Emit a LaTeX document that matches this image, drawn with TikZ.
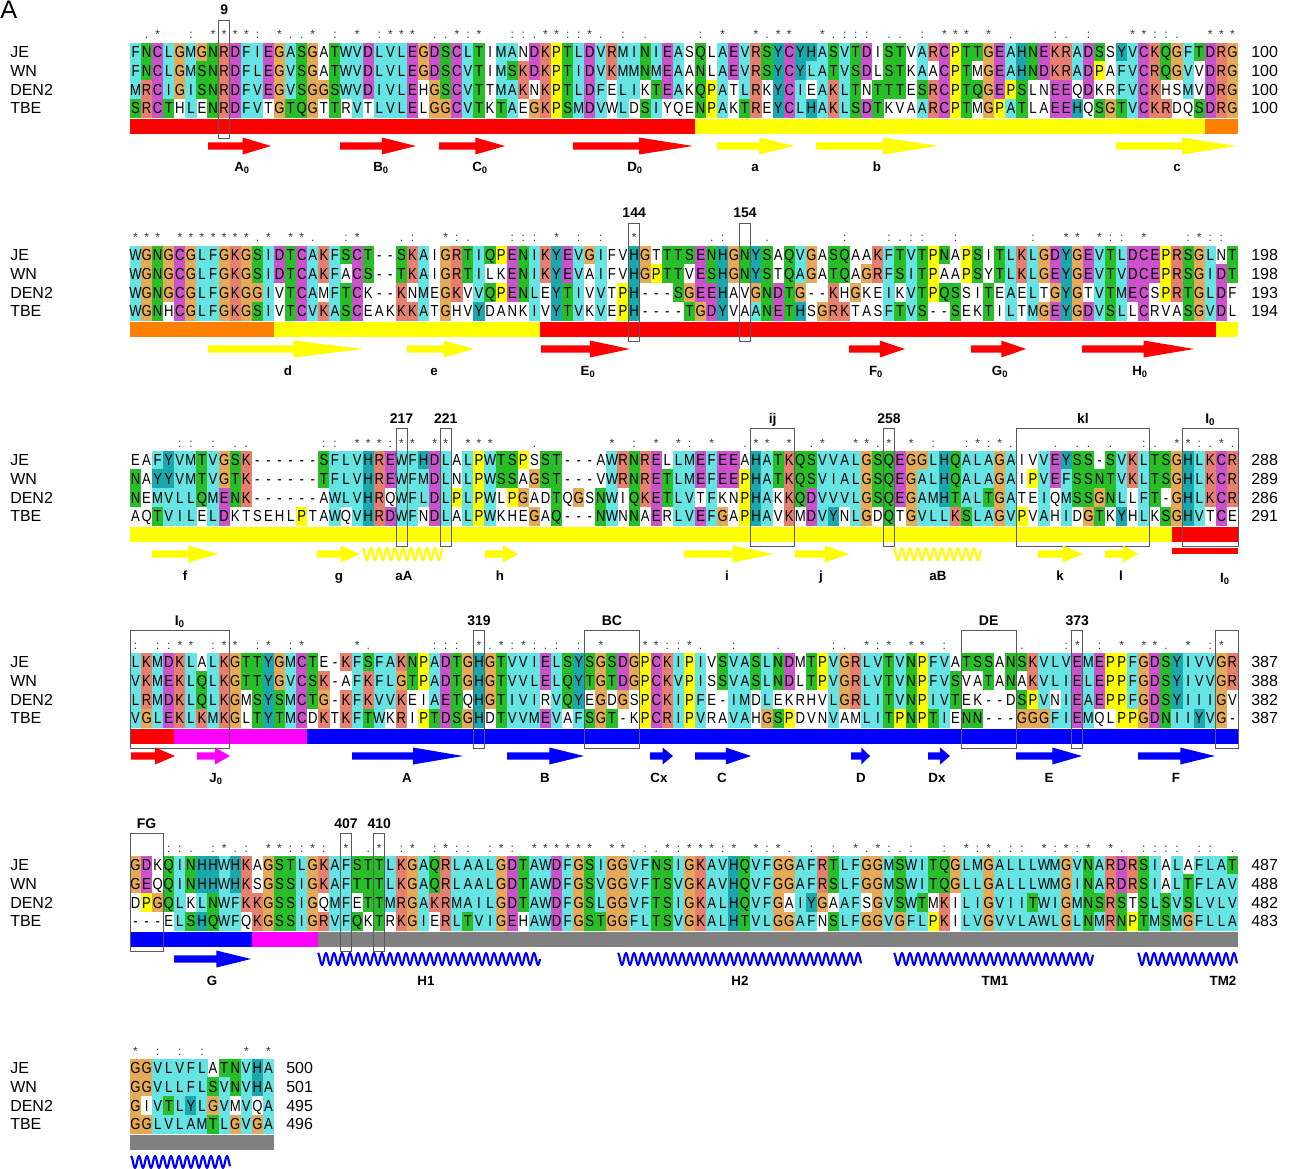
\documentclass[tikz,border=0pt]{standalone}
\usepackage{fontspec}
\setmainfont{Liberation Sans}
\newfontfamily\seqfont[FakeStretch=0.82]{Liberation Sans}

% residue colours
\definecolor{alncyan}{RGB}{102,228,228}
\definecolor{alngreen}{RGB}{40,190,40}
\definecolor{alnmag}{RGB}{204,82,204}
\definecolor{alnred}{RGB}{230,128,110}
\definecolor{alnorange}{RGB}{228,170,88}
\definecolor{alnyellow}{RGB}{255,255,0}
\definecolor{alndcyan}{RGB}{26,168,172}
% secondary structure colours
\definecolor{ssred}{RGB}{255,0,0}
\definecolor{ssyellow}{RGB}{255,255,0}
\definecolor{ssorange}{RGB}{255,128,0}
\definecolor{ssmag}{RGB}{255,0,255}
\definecolor{ssblue}{RGB}{0,0,255}
\definecolor{ssgrey}{RGB}{128,128,128}

% one cell, one residue, one consensus mark
\newcommand\alncell{\path[fill=\alnC] (\alnX-0.1,\alnY-9.45) rectangle (\alnX+11.18,\alnY+9.45);}
\newcommand\alnres{\node[res] (s-\alnB-\alnR-\alnK) at (\alnX+5.54,\alnY+5.7) {\alnL};}
\newcommand\alncons{\node[cons] (c-\alnB-\alnK) at (\alnX+5.54,\alnY) {\alnS};}

% bar under a block: y0, first col, last col, colour
\newcommand\segbar[4]{\fill[#4] ({130+(#2-1)*11.08},#1+67) rectangle ({130+#3*11.08},#1+82);}
% framed columns: name, y0, first col, last col, label
\newcommand\colbox[5]{%
  \draw[boxline] ({130+(#3-1)*11.08},#2-32) rectangle ({130+#4*11.08},#2+86);
  \node[toplab] (#1) at ({130+(#3-1+#4)*11.08/2},#2-37) {#5};}
% strand arrow: x1, x2, y, colour
\newcommand\ssarrow[4]{%
  \pgfmathsetmacro\xh{#1+0.55*(#2-#1)}
  \fill[#4] (#1,#3-3.6) -- (\xh,#3-3.6) -- (\xh,#3-8.5) -- (#2,#3) -- (\xh,#3+8.5) -- (\xh,#3+3.6) -- (#1,#3+3.6) -- cycle;}
% helix: x1, x2, y, colour
\newcommand\sshelix[4]{%
  \pgfmathtruncatemacro\hsamp{#2-#1+1}
  \draw[#4, line width=1.6pt, line join=round] plot[domain=#1:#2, samples=\hsamp, smooth] (\x,{#3-6*cos(45*(\x-#1))});}
% row names and end numbers: block, y0, x of numbers, numbers
\newcommand\blocklabels[4]{%
  \foreach \nm [count=\rr] in {JE,WN,DEN2,TBE}
    \node[rowlab] (n-#1-\rr) at (10,{#2+(\rr-1)*18.7+5.7}) {\nm};
  \foreach \v [count=\rr] in {#4}
    \node[rowlab] (e-#1-\rr) at (#3,{#2+(\rr-1)*18.7+5.7}) {\v};}

\ExplSyntaxOn
\tl_new:N \l__aln_sa_tl
\tl_new:N \l__aln_sb_tl
\tl_new:N \l__aln_sc_tl
\tl_new:N \l__aln_sd_tl
\tl_new:N \l__aln_col_tl
\tl_new:N \l__aln_res_tl
\tl_new:N \l__aln_first_tl
\tl_new:N \l__aln_colour_tl
\tl_new:N \alnX
\tl_new:N \alnY
\tl_new:N \alnC
\tl_new:N \alnS
\tl_new:N \alnB
\tl_new:N \alnK
\tl_new:N \alnR
\tl_new:N \alnL
\int_new:N \l__aln_n_int
\int_new:N \l__aln_hyd_int
\int_new:N \l__aln_kr_int
\int_new:N \l__aln_krq_int
\int_new:N \l__aln_de_int
\int_new:N \l__aln_pol_int
\int_new:N \l__aln_c_int
\int_new:N \l__aln_hy_int
\clist_const:Nn \c__aln_strong_clist { STA, NEQK, NHQK, NDEQ, QHRK, MILV, MILF, HY, FYW }
\clist_const:Nn \c__aln_weak_clist { CSA, ATV, SAG, STNK, STPA, SGND, SNDEQK, NDEQHK, NEQHRK, FVLIM, HFY }

% how many residues of the column lie in #1
\cs_new_protected:Npn \__aln_count:n #1
  {
    \int_zero:N \l__aln_n_int
    \tl_map_inline:Nn \l__aln_col_tl
      { \tl_if_in:nnT {#1} {##1} { \int_incr:N \l__aln_n_int } }
  }
\cs_new_protected:Npn \__aln_set:n #1 { \tl_set:Nn \l__aln_colour_tl {#1} }
\cs_new_protected:Npn \__aln_hyd:
  { \int_compare:nNnT \l__aln_hyd_int > 2 { \__aln_set:n { alncyan } } }
\cs_new_protected:Npn \__aln_kr:
  {
    \bool_lazy_or:nnT
      { \int_compare_p:nNn \l__aln_kr_int > 1 }
      { \int_compare_p:nNn \l__aln_krq_int > 2 }
      { \__aln_set:n { alnred } }
  }
\cs_new_protected:Npn \__aln_de:
  { \int_compare:nNnT \l__aln_de_int > 1 { \__aln_set:n { alnmag } } }
\cs_new_protected:Npn \__aln_pol:
  { \int_compare:nNnT \l__aln_pol_int > 1 { \__aln_set:n { alngreen } } }
\cs_new_protected:Npn \__aln_st:
  {
    \bool_lazy_or:nnT
      { \int_compare_p:nNn \l__aln_pol_int > 1 }
      { \int_compare_p:nNn \l__aln_hyd_int > 2 }
      { \__aln_set:n { alngreen } }
  }
\cs_new_protected:Npn \__aln_hy:
  {
    \bool_lazy_or:nnT
      { \int_compare_p:nNn \l__aln_hy_int > 1 }
      { \int_compare_p:nNn \l__aln_hyd_int > 2 }
      { \__aln_set:n { alndcyan } }
  }
\cs_new_protected:Npn \__aln_colour:n #1
  {
    \tl_clear:N \l__aln_colour_tl
    \str_case:nn {#1}
      {
        {A} {\__aln_hyd:} {I} {\__aln_hyd:} {L} {\__aln_hyd:} {M} {\__aln_hyd:}
        {F} {\__aln_hyd:} {W} {\__aln_hyd:} {V} {\__aln_hyd:}
        {C} { \int_compare:nNnTF \l__aln_c_int > 2 { \__aln_set:n { alnmag } } { \__aln_hyd: } }
        {K} {\__aln_kr:} {R} {\__aln_kr:}
        {D} {\__aln_de:} {E} {\__aln_de:}
        {N} {\__aln_pol:} {Q} {\__aln_pol:}
        {S} {\__aln_st:} {T} {\__aln_st:}
        {G} { \__aln_set:n { alnorange } }
        {P} { \__aln_set:n { alnyellow } }
        {H} {\__aln_hy:} {Y} {\__aln_hy:}
      }
  }
% colour cells and consensus mark of column #3 in block #1 at y0 = #2
\cs_new_protected:Npn \__aln_column:nnn #1#2#3
  {
    \tl_set:Nx \l__aln_col_tl
      {
        \tl_item:Nn \l__aln_sa_tl {#3}
        \tl_item:Nn \l__aln_sb_tl {#3}
        \tl_item:Nn \l__aln_sc_tl {#3}
        \tl_item:Nn \l__aln_sd_tl {#3}
      }
    \__aln_count:n { AILMFWVCHY } \int_set_eq:NN \l__aln_hyd_int \l__aln_n_int
    \__aln_count:n { KR }  \int_set_eq:NN \l__aln_kr_int \l__aln_n_int
    \__aln_count:n { KRQ } \int_set_eq:NN \l__aln_krq_int \l__aln_n_int
    \__aln_count:n { DE }  \int_set_eq:NN \l__aln_de_int \l__aln_n_int
    \__aln_count:n { NQST } \int_set_eq:NN \l__aln_pol_int \l__aln_n_int
    \__aln_count:n { C }   \int_set_eq:NN \l__aln_c_int \l__aln_n_int
    \__aln_count:n { HY }  \int_set_eq:NN \l__aln_hy_int \l__aln_n_int
    \tl_set:Nx \alnX { \fp_eval:n { 130 + (#3 - 1) * 11.08 } }
    \int_step_inline:nn { 4 }
      {
        \tl_set:Nx \l__aln_res_tl { \tl_item:Nn \l__aln_col_tl {##1} }
        \exp_args:NV \__aln_colour:n \l__aln_res_tl
        \tl_if_empty:NF \l__aln_colour_tl
          {
            \tl_set:Nx \alnY { \fp_eval:n { #2 + (##1 - 1) * 18.7 } }
            \tl_set_eq:NN \alnC \l__aln_colour_tl
            \alncell
          }
      }
    \tl_clear:N \alnS
    \tl_set:Nx \l__aln_first_tl { \tl_item:Nn \l__aln_col_tl {1} }
    \exp_args:NV \__aln_count:n \l__aln_first_tl
    \int_compare:nNnT \l__aln_n_int = 4
      { \str_if_eq:VnF \l__aln_first_tl { - } { \tl_set:Nn \alnS { * } } }
    \tl_if_empty:NT \alnS
      {
        \clist_map_inline:Nn \c__aln_strong_clist
          {
            \__aln_count:n {##1}
            \int_compare:nNnT \l__aln_n_int = 4
              { \tl_set:Nn \alnS { : } \clist_map_break: }
          }
      }
    \tl_if_empty:NT \alnS
      {
        \clist_map_inline:Nn \c__aln_weak_clist
          {
            \__aln_count:n {##1}
            \int_compare:nNnT \l__aln_n_int = 4
              { \tl_set:Nn \alnS { . } \clist_map_break: }
          }
      }
    \tl_if_empty:NF \alnS
      {
        \tl_set:Nn \alnB {#1}
        \tl_set:Nn \alnK {#3}
        \tl_set:Nx \alnY { \fp_eval:n { #2 - 13 } }
        \alncons
      }
  }
\cs_new_protected:Npn \__aln_row:nnN #1#2#3
  {
    \tl_set:Nn \alnR {#1}
    \tl_set:Nx \alnL { \tl_item:Nn #3 { \alnK } }
    \tl_set:Nx \alnY { \fp_eval:n { #2 + (#1 - 1) * 18.7 } }
    \alnres
  }
\cs_new_protected:Npn \__aln_letters:nnn #1#2#3
  {
    \tl_set:Nn \alnB {#1}
    \int_step_inline:nn {#3}
      {
        \tl_set:Nn \alnK {##1}
        \tl_set:Nx \alnX { \fp_eval:n { 130 + (##1 - 1) * 11.08 } }
        \__aln_row:nnN 1 {#2} \l__aln_sa_tl
        \__aln_row:nnN 2 {#2} \l__aln_sb_tl
        \__aln_row:nnN 3 {#2} \l__aln_sc_tl
        \__aln_row:nnN 4 {#2} \l__aln_sd_tl
      }
  }
% block id, y0, columns, JE, WN, DEN2, TBE
\NewDocumentCommand \alnblock { m m m m m m m }
  {
    \tl_set:Nn \l__aln_sa_tl {#4}
    \tl_set:Nn \l__aln_sb_tl {#5}
    \tl_set:Nn \l__aln_sc_tl {#6}
    \tl_set:Nn \l__aln_sd_tl {#7}
    \int_step_inline:nn {#3} { \__aln_column:nnn {#1} {#2} {##1} }
    \__aln_letters:nnn {#1} {#2} {#3}
  }
\ExplSyntaxOff

\begin{document}
\begin{tikzpicture}[x=0.75pt, y=-0.75pt,
    res/.style={font=\seqfont\fontsize{12}{12}\selectfont, inner sep=0pt, anchor=base},
    cons/.style={font=\fontsize{9}{9}\selectfont, inner sep=0pt, anchor=base, text=black!80},
    rowlab/.style={font=\fontsize{12}{12}\selectfont, inner sep=0pt, anchor=base west},
    toplab/.style={font=\bfseries\fontsize{10.5}{10.5}\selectfont, inner sep=0pt, anchor=base},
    sslab/.style={font=\bfseries\fontsize{10}{10}\selectfont, inner sep=0pt, anchor=base},
    boxline/.style={draw=black!65, line width=0.6pt}]
\useasboundingbox (0,0) rectangle (1291,1169);

\node[anchor=base west, inner sep=0pt, font=\fontsize{19}{19}\selectfont] (panel) at (0,19) {A};

% block 1
\alnblock{1}{52}{100}
 {FNCLGMGNRDFIEGASGATWVDLVLEGDSCLTIMANDKPTLDVRMINIEASQLAEVRSYCYHASVTDISTVARCPTTGEAHNEKRADSSYVCKQGFTDRG}
 {FNCLGMSNRDFLEGVSGATWVDLVLEGDSCVTIMSKDKPTIDVKMMNMEAANLAEVRSYCYLATVSDLSTKAACPTMGEAHNDKRADPAFVCRQGVVDRG}
 {MRCIGISNRDFVEGVSGGSWVDIVLEHGSCVTTMAKNKPTLDFELIKTEAKQPATLRKYCIEAKLTNTTTESRCPTQGEPSLNEEQDKRFVCKHSMVDRG}
 {SRCTHLENRDFVTGTQGTTRVTLVLELGGCVTKTAEGKPSMDVWLDSIYQENPAKTREYCLHAKLSDTKVAARCPTMGPATLAEEHQSGTVCKRDQSDRG}
\blocklabels{1}{52}{1251}{100,100,100,100}
\segbar{52}{1}{51}{ssred}
\segbar{52}{52}{97}{ssyellow}
\segbar{52}{98}{100}{ssorange}
\colbox{m9}{52}{9}{9}{9}
\ssarrow{208}{271}{146}{ssred}
\ssarrow{340}{416}{146}{ssred}
\ssarrow{439}{505}{146}{ssred}
\ssarrow{573}{693}{146}{ssred}
\ssarrow{717}{794}{146}{ssyellow}
\ssarrow{816}{938}{146}{ssyellow}
\ssarrow{1116}{1236}{146}{ssyellow}
\node[sslab] (lA0) at (242,172) {A\textsubscript{0}};
\node[sslab] (lB0) at (381,172) {B\textsubscript{0}};
\node[sslab] (lC0) at (480,172) {C\textsubscript{0}};
\node[sslab] (lD0) at (635,172) {D\textsubscript{0}};
\node[sslab] (la) at (755,172) {a};
\node[sslab] (lb) at (877,172) {b};
\node[sslab] (lc) at (1177,172) {c};

% block 2
\alnblock{2}{255}{100}
 {WGNGCGLFGKGSIDTCAKFSCT--SKAIGRTIQPENIKYEVGIFVHGTTTSENHGNYSAQVGASQAAKFTVTPNAPSITLKLGDYGEVTLDCEPRSGLNT}
 {WGNGCGLFGKGSIDTCAKFACS--TKAIGRTILKENIKYEVAIFVHGPTTVESHGNYSTQAGATQAGRFSITPAAPSYTLKLGEYGEVTVDCEPRSGIDT}
 {WGNGCGLFGKGGIVTCAMFTCK--KNMEGKVVQPENLEYTIVVTPH---SGEEHAVGNDTG--KHGKEIKVTPQSSITEAELTGYGTVTMECSPRTGLDF}
 {WGNHCGLFGKGSIVTCVKASCEAKKKATGHVYDANKIVYTVKVEPH----TGDYVAANETHSGRKTASFTVS--SEKTILTMGEYGDVSLLCRVASGVDL}
\blocklabels{2}{255}{1251}{198,198,193,194}
\segbar{255}{1}{13}{ssorange}
\segbar{255}{14}{37}{ssyellow}
\segbar{255}{38}{98}{ssred}
\segbar{255}{99}{100}{ssyellow}
\colbox{m144}{255}{46}{46}{144}
\colbox{m154}{255}{56}{56}{154}
\ssarrow{208}{363}{349}{ssyellow}
\ssarrow{407}{474}{349}{ssyellow}
\ssarrow{541}{630}{349}{ssred}
\ssarrow{849}{905}{349}{ssred}
\ssarrow{971}{1026}{349}{ssred}
\ssarrow{1082}{1194}{349}{ssred}
\node[sslab] (ld) at (288,375) {d};
\node[sslab] (le) at (434,375) {e};
\node[sslab] (lE0) at (588,375) {E\textsubscript{0}};
\node[sslab] (lF0) at (876,375) {F\textsubscript{0}};
\node[sslab] (lG0) at (1000,375) {G\textsubscript{0}};
\node[sslab] (lH0) at (1140,375) {H\textsubscript{0}};

% block 3
\alnblock{3}{460}{100}
 {EAFYVMTVGSK------SFLVHREWFHDLALPWTSPSST---AWRNRELLMEFEEAHATKQSVVALGSQEGGLHQALAGAIVVEYSS-SVKLTSGHLKCR}
 {NAYYVMTVGTK------TFLVHREWFMDLNLPWSSAGST---VWRNRETLMEFEEPHATKQSVIALGSQEGALHQALAGAIPVEFSSNTVKLTSGHLKCR}
 {NEMVLLQMENK------AWLVHRQWFLDLPLPWLPGADTQGSNWIQKETLVTFKNPHAKKQDVVVLGSQEGAMHTALTGATEIQMSSGNLLFT-GHLKCR}
 {AQTVILELDKTSEHLPTAWQVHRDWFNDLALPWKHEGAQ---NWNNAERLVEFGAPHAVKMDVYNLGDQTGVLLKSLAGVPVAHIDGTKYHLKSGHVTCE}
\blocklabels{3}{460}{1251}{288,289,286,291}
\segbar{460}{1}{94}{ssyellow}
\segbar{460}{95}{100}{ssred}
\fill[ssred] ({130+94*11.08},548) rectangle (1238,554);
\colbox{m217}{460}{25}{25}{217}
\colbox{m221}{460}{29}{29}{221}
\colbox{mij}{460}{57}{60}{ij}
\colbox{m258}{460}{69}{69}{258}
\colbox{mkl}{460}{81}{92}{kl}
\colbox{mI0a}{460}{96}{100}{I\textsubscript{0}}
\ssarrow{152}{218}{554}{ssyellow}
\ssarrow{317}{360}{554}{ssyellow}
\sshelix{363}{443}{554}{ssyellow}
\ssarrow{485}{518}{554}{ssyellow}
\ssarrow{684}{773}{554}{ssyellow}
\ssarrow{795}{849}{554}{ssyellow}
\sshelix{894}{981}{554}{ssyellow}
\ssarrow{1038}{1083}{554}{ssyellow}
\ssarrow{1105}{1138}{554}{ssyellow}
\node[sslab] (lf) at (185,580) {f};
\node[sslab] (lg) at (339,580) {g};
\node[sslab] (laA) at (404,580) {aA};
\node[sslab] (lh) at (500,580) {h};
\node[sslab] (li) at (727,580) {i};
\node[sslab] (lj) at (821,580) {j};
\node[sslab] (laB) at (938,580) {aB};
\node[sslab] (lk) at (1060,580) {k};
\node[sslab] (ll) at (1121,580) {l};
\node[sslab] (lI0a) at (1225,582) {I\textsubscript{0}};

% block 4
\alnblock{4}{662}{100}
 {LKMDKLALKGTTYGMCTE-KFSFAKNPADTGHGTVVIELSYSGSDGPCKIPIVSVASLNDMTPVGRLVTVNPFVATSSANSKVLVEMEPPFGDSYIVVGR}
 {VKMEKLQLKGTTYGVCSK-AFKFLGTPADTGHGTVVLELQYTGTDGPCKVPISSVASLNDLTPVGRLVTVNPFVSVATANAKVLIELEPPFGDSYIVVGR}
 {LRMDKLQLKGMSYSMCTG-KFKVVKEIAETQHGTIVIRVQYEGDGSPCKIPFE-IMDLEKRHVLGRLITVNPIVTEK--DSPVNIEAEPPFGDSYIIIGV}
 {VGLEKLKMKGLTYTMCDKTKFTWKRIPTDSGHDTVVMEVAFSGT-KPCRIPVRAVAHGSPDVNVAMLITPNPTIENN---GGGFIEMQLPPGDNIIYVG-}
\blocklabels{4}{662}{1251}{387,388,382,387}
\segbar{662}{1}{4}{ssred}
\segbar{662}{5}{16}{ssmag}
\segbar{662}{17}{100}{ssblue}
\colbox{mI0b}{662}{1}{9}{I\textsubscript{0}}
\colbox{m319}{662}{32}{32}{319}
\colbox{mBC}{662}{42}{46}{BC}
\colbox{mDE}{662}{76}{80}{DE}
\colbox{m373}{662}{86}{86}{373}
\colbox{mGR}{662}{99}{100}{}
\ssarrow{131}{175}{756}{ssred}
\ssarrow{197}{230}{756}{ssmag}
\ssarrow{352}{463}{756}{ssblue}
\ssarrow{507}{584}{756}{ssblue}
\ssarrow{650}{673}{756}{ssblue}
\ssarrow{695}{751}{756}{ssblue}
\ssarrow{851}{870}{756}{ssblue}
\ssarrow{928}{950}{756}{ssblue}
\ssarrow{1016}{1082}{756}{ssblue}
\ssarrow{1138}{1215}{756}{ssblue}
\node[sslab] (lJ0) at (216,782) {J\textsubscript{0}};
\node[sslab] (lA) at (407,782) {A};
\node[sslab] (lB) at (545,782) {B};
\node[sslab] (lCx) at (659,782) {Cx};
\node[sslab] (lC) at (722,782) {C};
\node[sslab] (lD) at (861,782) {D};
\node[sslab] (lDx) at (937,782) {Dx};
\node[sslab] (lE) at (1049,782) {E};
\node[sslab] (lF) at (1176,782) {F};

% block 5
\alnblock{5}{865}{100}
 {GDKQINHHWHKAGSTLGKAFSTTLKGAQRLAALGDTAWDFGSIGGVFNSIGKAVHQVFGGAFRTLFGGMSWITQGLMGALLLWMGVNARDRSIALAFLAT}
 {GEQQINHHWHKSGSSIGKAFTTTLKGAQRLAALGDTAWDFGSVGGVFTSVGKAVHQVFGGAFRSLFGGMSWITQGLLGALLLWMGINARDRSIALTFLAV}
 {DPGQLKLNWFKKGSSIGQMFETTMRGAKRMAILGDTAWDFGSLGGVFTSIGKALHQVFGAIYGAAFSGVSWTMKILIGVIITWIGMNSRSTSLSVSLVLV}
 {---ELSHQWFQKGSSIGRVFQKTRKGIERLTVIGEHAWDFGSTGGFLTSVGKALHTVLGGAFNSLFGGVGFLPKILVGVVLAWLGLNMRNPTMSMGFLLA}
\blocklabels{5}{865}{1251}{487,488,482,483}
\segbar{865}{1}{11}{ssblue}
\segbar{865}{12}{17}{ssmag}
\segbar{865}{18}{100}{ssgrey}
\colbox{mFG}{865}{1}{3}{FG}
\colbox{m407}{865}{20}{20}{407}
\colbox{m410}{865}{23}{23}{410}
\ssarrow{174}{251}{959}{ssblue}
\sshelix{318}{540}{959}{ssblue}
\sshelix{618}{861}{959}{ssblue}
\sshelix{894}{1093}{959}{ssblue}
\sshelix{1138}{1237}{959}{ssblue}
\node[sslab] (lG) at (212,985) {G};
\node[sslab] (lH1) at (426,985) {H1};
\node[sslab] (lH2) at (740,985) {H2};
\node[sslab] (lTM1) at (995,985) {TM1};
\node[sslab] (lTM2) at (1223,985) {TM2};

% block 6
\alnblock{6}{1068}{13}
 {GGVLVFLATNVHA}
 {GGVLLFLSVNVHA}
 {GIVTLYLGVMVQA}
 {GGLVLAMTLGVGA}
\blocklabels{6}{1068}{286}{500,501,495,496}
\segbar{1068}{1}{13}{ssgrey}
\sshelix{131}{230}{1162}{ssblue}
\end{tikzpicture}
\end{document}
